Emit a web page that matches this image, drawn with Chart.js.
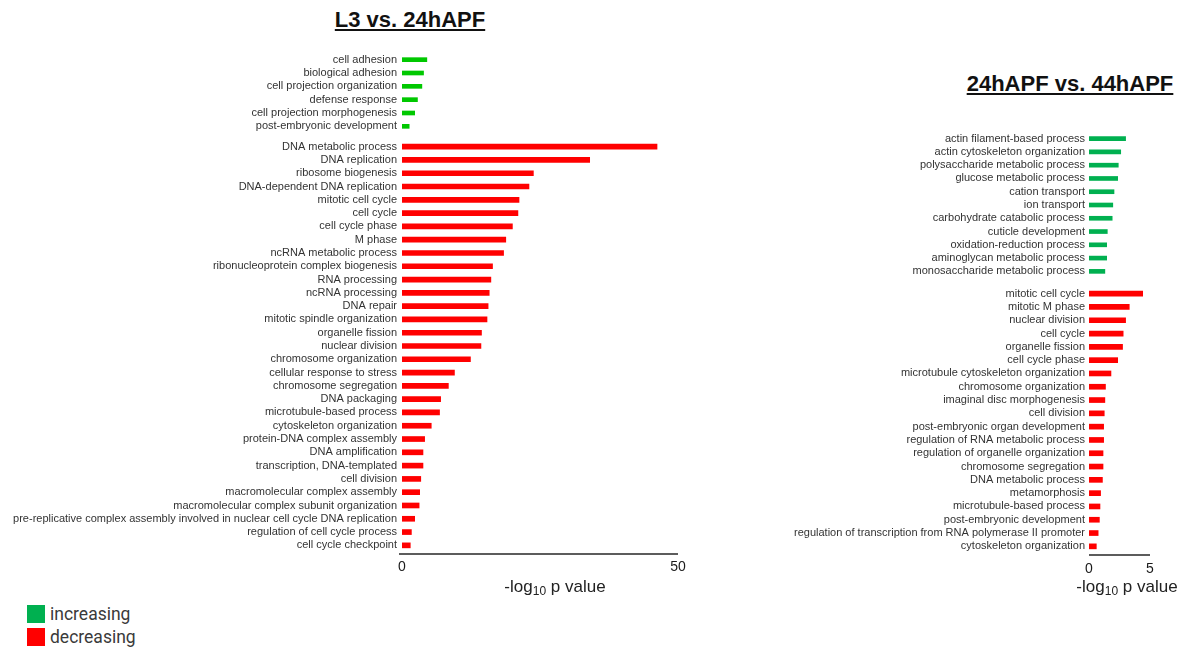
<!DOCTYPE html>
<html>
<head>
<meta charset="utf-8">
<script src="https://cdn.jsdelivr.net/npm/chart.js@4.4.1/dist/chart.umd.min.js"></script>
<style>
  html, body { margin: 0; padding: 0; background: #fff; }
  body { width: 1188px; height: 649px; position: relative; overflow: hidden;
         font-family: 'Liberation Sans', Arial, sans-serif; }
  .box { position: absolute; }
  .box canvas { display: block; }
  .title { position: absolute; font-weight: bold; font-size: 22px; line-height: 22px;
           color: #111; white-space: nowrap; transform: translateX(-50%);
           text-decoration: underline; text-decoration-thickness: 2px; text-underline-offset: 2px; }
  .axis-title { position: absolute; font-size: 17px; line-height: 17px; color: #222;
                white-space: nowrap; transform: translateX(-50%); }
  .axis-title sub { font-size: 12px; line-height: 0; vertical-align: -3px; }
  .legend { position: absolute; left: 27px; top: 602px; font-family: Roboto, 'Noto Sans', sans-serif;
            font-size: 17.5px; color: #3a3a3a; }
  .legend .row { display: flex; align-items: center; height: 23px; }
  .legend .sw { width: 18px; height: 18px; margin-right: 5px; }
</style>
</head>
<body>

<div class="title" style="left:410px; top:9px;">L3 vs. 24hAPF</div>
<div class="title" style="left:1070px; top:73px;">24hAPF vs. 44hAPF</div>

<div class="box" style="left:0px; top:39px;"><canvas id="leftUp" width="700" height="108"></canvas></div>
<div class="box" style="left:0px; top:126px;"><canvas id="leftDown" width="700" height="476"></canvas></div>
<div class="box" style="left:700px; top:118px;"><canvas id="rightUp" width="488" height="174"></canvas></div>
<div class="box" style="left:700px; top:273px;"><canvas id="rightDown" width="488" height="330"></canvas></div>

<div class="axis-title" style="left:555px; top:578px;">-log<sub>10</sub> p value</div>
<div class="axis-title" style="left:1127px; top:578px;">-log<sub>10</sub> p value</div>

<div class="legend">
  <div class="row"><div class="sw" style="background:#00b050"></div>increasing</div>
  <div class="row"><div class="sw" style="background:#ff0000"></div>decreasing</div>
</div>

<script>
// GO terms enriched between L3 and 24hAPF (-log10 p value)
const l3UpTerms = [
  'cell adhesion', 'biological adhesion', 'cell projection organization',
  'defense response', 'cell projection morphogenesis', 'post-embryonic development'
];
const l3UpValues = [4.5, 3.9, 3.6, 2.8, 2.3, 1.3];

const l3DownTerms = [
  'DNA metabolic process', 'DNA replication', 'ribosome biogenesis',
  'DNA-dependent DNA replication', 'mitotic cell cycle', 'cell cycle', 'cell cycle phase',
  'M phase', 'ncRNA metabolic process', 'ribonucleoprotein complex biogenesis',
  'RNA processing', 'ncRNA processing', 'DNA repair', 'mitotic spindle organization',
  'organelle fission', 'nuclear division', 'chromosome organization',
  'cellular response to stress', 'chromosome segregation', 'DNA packaging',
  'microtubule-based process', 'cytoskeleton organization', 'protein-DNA complex assembly',
  'DNA amplification', 'transcription, DNA-templated', 'cell division',
  'macromolecular complex assembly', 'macromolecular complex subunit organization',
  'pre-replicative complex assembly involved in nuclear cell cycle DNA replication',
  'regulation of cell cycle process', 'cell cycle checkpoint'
];
const l3DownValues = [
  46.2, 34.0, 23.8, 23.0, 21.2, 21.0, 20.0, 18.8, 18.4, 16.4,
  16.1, 15.8, 15.6, 15.4, 14.4, 14.3, 12.4, 9.5, 8.4, 7.0,
  6.8, 5.3, 4.1, 3.8, 3.8, 3.4, 3.2, 3.1, 2.3, 1.7, 1.5
];

// GO terms enriched between 24hAPF and 44hAPF (-log10 p value)
const apfUpTerms = [
  'actin filament-based process', 'actin cytoskeleton organization',
  'polysaccharide metabolic process', 'glucose metabolic process', 'cation transport',
  'ion transport', 'carbohydrate catabolic process', 'cuticle development',
  'oxidation-reduction process', 'aminoglycan metabolic process',
  'monosaccharide metabolic process'
];
const apfUpValues = [3.0, 2.6, 2.4, 2.35, 2.05, 1.95, 1.9, 1.5, 1.45, 1.45, 1.3];

const apfDownTerms = [
  'mitotic cell cycle', 'mitotic M phase', 'nuclear division', 'cell cycle',
  'organelle fission', 'cell cycle phase', 'microtubule cytoskeleton organization',
  'chromosome organization', 'imaginal disc morphogenesis', 'cell division',
  'post-embryonic organ development', 'regulation of RNA metabolic process',
  'regulation of organelle organization', 'chromosome segregation',
  'DNA metabolic process', 'metamorphosis', 'microtubule-based process',
  'post-embryonic development',
  'regulation of transcription from RNA polymerase II promoter',
  'cytoskeleton organization'
];
const apfDownValues = [
  4.4, 3.3, 3.0, 2.8, 2.75, 2.35, 1.8, 1.35, 1.3, 1.25,
  1.2, 1.2, 1.15, 1.15, 1.1, 0.95, 0.9, 0.85, 0.75, 0.6
];

// axis ranges / tick steps
const l3Ticks = [0, 50];
const apfTicks = [0, 5];

Chart.defaults.font.family = "'Liberation Sans', Arial, sans-serif";

// solid baseline for the value axis, drawn a little below the last bar row
const axisLinePlugin = {
  id: 'axisLine',
  afterDraw(chart, args, opts) {
    if (!opts || !opts.show) return;
    const { ctx, chartArea } = chart;
    const xs = chart.scales.x;
    const y = chartArea.bottom + opts.gap;
    ctx.save();
    ctx.strokeStyle = opts.color;
    ctx.lineWidth = opts.width;
    ctx.beginPath();
    ctx.moveTo(xs.left - opts.extend, y);
    ctx.lineTo(xs.right, y);
    ctx.stroke();
    ctx.restore();
  }
};

function termChart(id, terms, values, cfg) {
  const ticks = cfg.ticks;
  return new Chart(document.getElementById(id), {
    type: 'bar',
    data: {
      labels: terms,
      datasets: [{
        data: values,
        backgroundColor: cfg.color,
        borderWidth: 0,
        barThickness: cfg.thickness
      }]
    },
    plugins: [axisLinePlugin],
    options: {
      indexAxis: 'y',
      responsive: false,
      animation: false,
      devicePixelRatio: 1,
      layout: { padding: { top: 14, bottom: cfg.showAxis ? 0 : 14, left: 0, right: cfg.padRight } },
      plugins: {
        legend: { display: false },
        tooltip: { enabled: false },
        axisLine: { show: cfg.showAxis, gap: cfg.gap, color: '#262626', width: 1.5, extend: cfg.extend }
      },
      scales: {
        x: {
          type: 'linear',
          display: cfg.showAxis,
          min: ticks[0],
          max: ticks[ticks.length - 1],
          afterBuildTicks(scale) { scale.ticks = ticks.map(v => ({ value: v })); },
          afterFit(scale) { scale.height = cfg.showAxis ? 50 : 0; },
          grid: { display: false, drawTicks: false },
          border: { display: false },
          ticks: { padding: cfg.tickPad || 8, color: '#1a1a1a', font: { size: 14 } }
        },
        y: {
          type: 'category',
          afterFit(scale) { scale.width = cfg.axisWidth; },
          grid: { display: false, drawTicks: false },
          border: { display: false },
          ticks: { padding: cfg.labelPad, color: '#333', font: { size: 11 }, autoSkip: false }
        }
      }
    }
  });
}

termChart('leftUp', l3UpTerms, l3UpValues,
  { color: '#00c800', thickness: 4, ticks: l3Ticks, axisWidth: 402, padRight: 22, showAxis: false, labelPad: 5 });
termChart('leftDown', l3DownTerms, l3DownValues,
  { color: '#ff0000', thickness: 5, ticks: l3Ticks, axisWidth: 402, padRight: 22, showAxis: true, gap: 2, extend: 3, labelPad: 5, tickPad: 7 });
termChart('rightUp', apfUpTerms, apfUpValues,
  { color: '#00b050', thickness: 4, ticks: apfTicks, axisWidth: 389, padRight: 38, showAxis: false, labelPad: 4 });
termChart('rightDown', apfDownTerms, apfDownValues,
  { color: '#ff0000', thickness: 5, ticks: apfTicks, axisWidth: 389, padRight: 38, showAxis: true, gap: 2, extend: 0, labelPad: 4 });
</script>
</body>
</html>
